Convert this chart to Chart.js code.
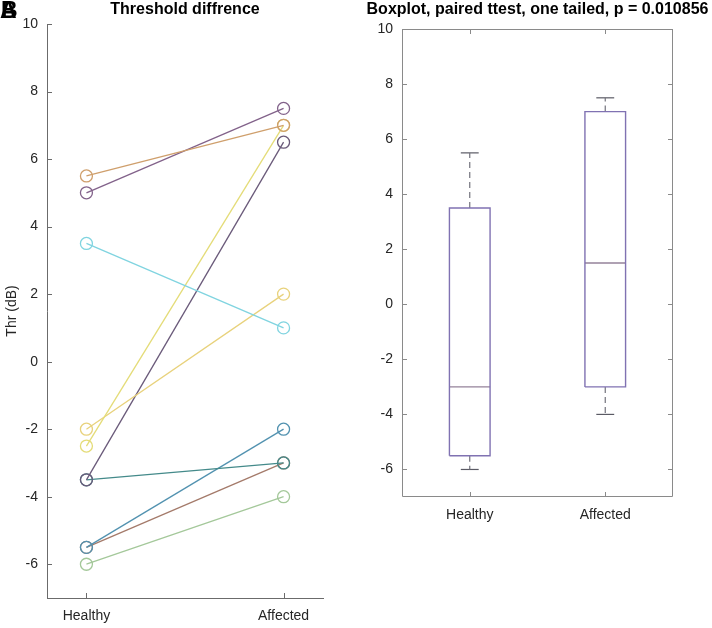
<!DOCTYPE html>
<html>
<head>
<meta charset="utf-8">
<script src="https://cdn.jsdelivr.net/npm/chart.js@4/dist/chart.umd.min.js"></script>
<style>
  body { margin: 0; background: #fff; width: 712px; height: 628px; overflow: hidden; position: relative; }
  .panel { position: absolute; top: 0; width: 356px; height: 628px; }
  #left { left: 0; }
  #right { left: 356px; }
  .tag { position: absolute; left: 0; top: -1px; font: bold 23px "Liberation Sans", Arial, sans-serif; color: #000; line-height: 23px; }
</style>
</head>
<body>
<div class="panel" id="left"><canvas id="c1"></canvas></div>
<div class="panel" id="right"><canvas id="c2"></canvas></div>
<div class="tag">A</div>
<div class="tag" style="left:1px">B</div>
<script>
// data
const groups = ['Healthy', 'Affected']
const healthy  = [5.5, 5.0, 3.5, -2.5, -2.0, -3.5, -3.5, -5.5, -5.5, -6.0]
const affected = [7.0, 7.5, 1.0,  7.0,  2.0,  6.5, -3.0, -2.0, -3.0, -4.0]
const lineColors = ['#cf9f6c', '#82628a', '#80d4e0', '#e4dc78', '#e8d27c',
                    '#6a5a7a', '#448a8a', '#5292b0', '#a47a6a', '#a4c89a']
const yTicks = [-6, -4, -2, 0, 2, 4, 6, 8, 10]

// boxplot stats per group: min, q1, median, q3, max
const boxMin    = [-6.0, -4.0]
const boxQ1     = [-5.5, -3.0]
const boxMedian = [-3.0,  1.5]
const boxQ3     = [ 3.5,  7.0]
const boxMax    = [ 5.5,  7.5]

const FONT = '"Liberation Sans", Arial, Helvetica, sans-serif'
Chart.defaults.font.family = FONT
Chart.defaults.color = '#262626'
Chart.defaults.animation = false

// matlab-ish inward ticks (and optional full box)
const innerTicks = {
  id: 'innerTicks',
  afterDraw(chart, args, opts) {
    const { ctx, chartArea: a, scales } = chart
    const len = 5
    ctx.save()
    ctx.strokeStyle = opts.color || '#6b6b6b'
    ctx.lineWidth = 1
    ctx.beginPath()
    if (opts.box) {
      ctx.rect(a.left + 0.5, a.top + 0.5, a.right - a.left - 1, a.bottom - a.top - 1)
    }
    scales.y.ticks.forEach(t => {
      const py = Math.round(scales.y.getPixelForValue(t.value)) + 0.5
      ctx.moveTo(a.left, py); ctx.lineTo(a.left + len, py)
      if (opts.box) { ctx.moveTo(a.right, py); ctx.lineTo(a.right - len, py) }
    })
    scales.x.ticks.forEach(t => {
      const px = Math.round(scales.x.getPixelForValue(t.value)) + 0.5
      ctx.moveTo(px, a.bottom); ctx.lineTo(px, a.bottom - len)
      if (opts.box) { ctx.moveTo(px, a.top); ctx.lineTo(px, a.top + len) }
    })
    ctx.stroke()
    // title centred over the axes, like matlab
    if (opts.title) {
      ctx.fillStyle = '#000'
      ctx.font = 'bold 16px ' + FONT
      ctx.textAlign = 'center'
      ctx.textBaseline = 'middle'
      ctx.fillText(opts.title, (a.left + a.right) / 2, opts.titleY)
    }
    ctx.restore()
  }
}

function yScale(width) {
  return {
    min: -7, max: 10,
    afterBuildTicks: s => { s.ticks = yTicks.map(v => ({ value: v })) },
    afterFit: s => { s.width = width },
    grid: { display: false, drawTicks: false },
    border: { display: true, color: '#6b6b6b', width: 1 },
    ticks: { padding: 9, font: { size: 14 }, color: '#262626' }
  }
}
function xScale(min, max, height) {
  return {
    type: 'linear', min: min, max: max,
    afterBuildTicks: s => { s.ticks = groups.map((g, i) => ({ value: i + 1 })) },
    afterFit: s => { s.height = height },
    grid: { display: false, drawTicks: false },
    border: { display: true, color: '#6b6b6b', width: 1 },
    ticks: { padding: 10, font: { size: 14 }, color: '#262626',
             callback: v => groups[v - 1] || '' }
  }
}

// left: paired lines
const pairSets = healthy.map((h, i) => ({
  data: [{ x: 1, y: h }, { x: 2, y: affected[i] }],
  showLine: true,
  borderColor: lineColors[i],
  borderWidth: 1.3,
  pointRadius: 6,
  pointBorderWidth: 1.3,
  pointBorderColor: lineColors[i],
  pointBackgroundColor: 'rgba(0,0,0,0)'
}))

new Chart(document.getElementById('c1'), {
  type: 'scatter',
  data: { datasets: pairSets },
  options: {
    responsive: true, maintainAspectRatio: false,
    layout: { padding: { right: 33, left: 0, top: 24, bottom: 0 } },
    plugins: {
      legend: { display: false }, tooltip: { enabled: false },
      innerTicks: { box: false, title: 'Threshold diffrence', titleY: 10 }
    },
    scales: {
      x: xScale(0.8, 2.2, 30),
      y: Object.assign(yScale(47), {
        title: { display: true, text: 'Thr (dB)', font: { size: 14 }, color: '#262626',
                 padding: { top: 4, bottom: 0 } }
      })
    }
  },
  plugins: [innerTicks]
})

// right: boxplots built from the stats arrays
const BOX_HALF = 0.15, CAP_HALF = 0.066
const boxSets = []
groups.forEach((g, i) => {
  const x = i + 1
  boxSets.push({
    data: [{ x: x - BOX_HALF, y: boxQ1[i] }, { x: x + BOX_HALF, y: boxQ1[i] },
           { x: x + BOX_HALF, y: boxQ3[i] }, { x: x - BOX_HALF, y: boxQ3[i] },
           { x: x - BOX_HALF, y: boxQ1[i] }],
    borderColor: '#8072b2', borderWidth: 1.4
  })
  boxSets.push({
    data: [{ x: x - BOX_HALF, y: boxMedian[i] }, { x: x + BOX_HALF, y: boxMedian[i] }],
    borderColor: '#94829a', borderWidth: 1.4
  })
  boxSets.push({
    data: [{ x: x, y: boxQ3[i] }, { x: x, y: boxMax[i] }],
    borderColor: '#72727c', borderWidth: 1.2, borderDash: [6, 4]
  })
  boxSets.push({
    data: [{ x: x, y: boxQ1[i] }, { x: x, y: boxMin[i] }],
    borderColor: '#72727c', borderWidth: 1.2, borderDash: [6, 4]
  })
  boxSets.push({
    data: [{ x: x - CAP_HALF, y: boxMax[i] }, { x: x + CAP_HALF, y: boxMax[i] }],
    borderColor: '#5a5a64', borderWidth: 1.2
  })
  boxSets.push({
    data: [{ x: x - CAP_HALF, y: boxMin[i] }, { x: x + CAP_HALF, y: boxMin[i] }],
    borderColor: '#5a5a64', borderWidth: 1.2
  })
})
boxSets.forEach(d => { d.showLine = true; d.pointRadius = 0; d.fill = false })

new Chart(document.getElementById('c2'), {
  type: 'scatter',
  data: { datasets: boxSets },
  options: {
    responsive: true, maintainAspectRatio: false,
    layout: { padding: { right: 39, left: 0, top: 29, bottom: 0 } },
    plugins: {
      legend: { display: false }, tooltip: { enabled: false },
      innerTicks: { box: true, color: '#8a8a8a',
                    title: 'Boxplot, paired ttest, one tailed, p = 0.010856', titleY: 10 }
    },
    scales: {
      x: Object.assign(xScale(0.5, 2.5, 131), {
        border: { display: false }
      }),
      y: Object.assign(yScale(46), { border: { display: false } })
    }
  },
  plugins: [innerTicks]
})
</script>
</body>
</html>
